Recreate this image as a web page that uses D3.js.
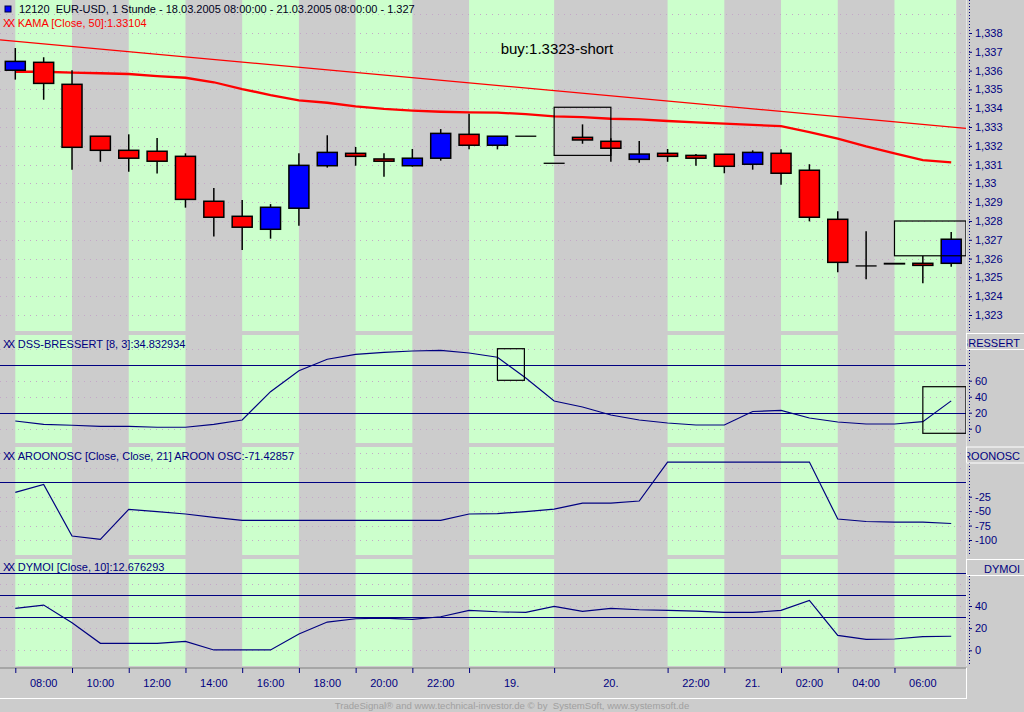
<!DOCTYPE html>
<html>
<head>
<meta charset="utf-8">
<script src="https://cdnjs.cloudflare.com/ajax/libs/d3/7.8.5/d3.min.js"></script>
<style>
body { margin:0; background:#cccccc; }
svg { display:block; font-family:"Liberation Sans", Arial, sans-serif; }
</style>
</head>
<body>
<script>
// EUR-USD 1h candles + KAMA, with DSS / AROON OSC / DYMOI panels (d3 v7)
var w = 1024, h = 712;
var plotRight = 966;   // axis column starts here

// time axis: bar where each label segment starts + its label
var segStart = [0, 2, 4, 6, 8, 10, 12, 14, 16, 19, 23, 25, 27, 29, 31, 33];
var timeLabels = ["08:00","10:00","12:00","14:00","16:00","18:00","20:00","22:00",
                  "19.","20.","22:00","21.","02:00","04:00","06:00"];

// OHLC, one per hour
var barOpen  = [1.33602,1.33644,1.33527,1.33251,1.33176,1.33171,1.33144,1.32905,1.32825,1.32756,
                1.32868,1.33094,1.33160,1.33130,1.33094,1.33134,1.33261,1.33203,1.33251,1.33107,
                1.33245,1.33224,1.33128,1.33160,1.33149,1.33155,1.33102,1.33160,1.33070,1.32809,
                1.32561,1.32574,1.32575,1.32575];
var barHigh  = [1.33720,1.33671,1.33602,1.33251,1.33261,1.33241,1.33160,1.32976,1.32912,1.32890,
                1.33160,1.33256,1.33194,1.33160,1.33183,1.33289,1.33371,1.33251,1.33251,1.33107,
                1.33314,1.33240,1.33226,1.33183,1.33156,1.33155,1.33176,1.33181,1.33102,1.32852,
                1.32745,1.32574,1.32614,1.32741];
var barLow   = [1.33552,1.33445,1.33073,1.33115,1.33062,1.33052,1.32871,1.32717,1.32646,1.32706,
                1.32775,1.33084,1.33094,1.33036,1.33089,1.33121,1.33181,1.33181,1.33251,1.33107,
                1.33211,1.33115,1.33110,1.33115,1.33094,1.33054,1.33073,1.32993,1.32798,1.32527,
                1.32490,1.32572,1.32469,1.32557];
var barClose = [1.33649,1.33532,1.33192,1.33176,1.33134,1.33118,1.32915,1.32820,1.32767,1.32873,
                1.33096,1.33165,1.33144,1.33118,1.33134,1.33266,1.33203,1.33251,1.33251,1.33107,
                1.33231,1.33187,1.33156,1.33144,1.33134,1.33091,1.33165,1.33054,1.32820,1.32580,
                1.32561,1.32572,1.32564,1.32703];

// KAMA [Close, 50]
var kama = [1.33594,1.33594,1.33589,1.33586,1.33582,1.33571,1.33562,1.33538,1.33502,1.33470,
            1.33442,1.33429,1.33410,1.33396,1.33387,1.33381,1.33378,1.33376,1.33369,1.33357,
            1.33352,1.33344,1.33341,1.33332,1.33325,1.33318,1.33311,1.33305,1.33273,1.33238,
            1.33197,1.33160,1.33124,1.33112];

// drawn trend line (two anchors, bar index / price)
var trendBar = [-0.54, 33.52];
var trendPrice = [1.33763, 1.33293];

// DSS-BRESSERT [8, 3]
var dss = [9.6,5.5,4.3,3.0,3.0,1.8,1.8,5.5,10.9,46.3,72.5,86.8,93.0,95.5,97.1,98.0,94.6,89.3,
           63.4,34.6,27.1,17.1,10.9,7.1,4.6,4.6,21.5,22.8,13.4,8.4,5.9,5.9,8.8,34.8];
// AROONOSC [Close, Close, 21]
var aroon = [-17.5,-3.6,-93.1,-98.8,-46.9,-50.7,-55.0,-60.7,-65.9,-65.9,-65.9,-65.9,-65.9,-65.9,
             -65.9,-65.9,-55.0,-54.2,-50.7,-46.4,-36.0,-36.0,-32.5,35.0,35.0,35.0,35.0,35.0,35.0,
             -63.7,-68.0,-68.9,-68.9,-71.4];
// DYMOI [Close, 10]
var dymoi = [37.8,40.8,24.9,6.3,6.3,6.3,8.1,0.3,0.3,0.3,14.7,25.5,28.5,29.1,27.9,30.3,36.0,34.8,
             34.2,39.6,35.1,37.8,36.6,36.0,35.4,34.2,34.2,36.0,45.0,13.5,9.9,10.2,12.3,12.7];

// axis ticks, dotted grid rows and solid level lines
var priceTicks = [1.323,1.324,1.325,1.326,1.327,1.328,1.329,1.330,1.331,1.332,1.333,1.334,1.335,1.336,1.337,1.338];
var priceGrid  = [1.323,1.324,1.325,1.326,1.327,1.328,1.329,1.330,1.331,1.332,1.333,1.334,1.335,1.336,1.337,1.338,1.339];
var dssTicks = [0,20,40,60],        dssGrid = [0,20,40,60,80,100],          dssLevels = [20,80];
var aroonTicks = [-100,-75,-50,-25], aroonGrid = [-100,-75,-50,-25,25,50], aroonLevels = [0];
var dymoiTicks = [0,20,40],         dymoiGrid = [0,20,40,60],               dymoiLevels = [30,50,70];

// signal boxes: [bar from, bar to, value top, value bottom]
var priceBoxes = [[19, 21, 1.33405, 1.33149], [31, 33.52, 1.32800, 1.32615]];
var dssBoxes   = [[17, 17.95, 100, 60.5], [32, 33.52, 52.5, -5.75]];

var svg = d3.select("body").append("svg")
            .attr("width", w)
            .attr("height", h);

// panels (pixel extents)
var panels = [
  {top:0,   bottom:331},
  {top:335, bottom:443},
  {top:447, bottom:555},
  {top:559, bottom:666}
];

var x = d3.scaleLinear().domain([0, 33]).range([15.3, 951.2]);
var yPrice = d3.scaleLinear().domain([1.323, 1.338]).range([315, 33]);
var yDss   = d3.scaleLinear().domain([0, 60]).range([428.7, 380.7]);
var yAroon = d3.scaleLinear().domain([-100, -25]).range([540, 496.7]);
var yDymoi = d3.scaleLinear().domain([0, 40]).range([650.3, 606]);

var navy = "#000080";

// green session bands
panels.forEach(function(p){
  for (var k = 0; k < timeLabels.length; k += 2) {
    var x0 = x(segStart[k]);
    var x1 = x(segStart[k+1]) + (k + 1 == timeLabels.length ? 5 : 0);
    svg.append("rect")
      .attr("x", x0).attr("y", p.top)
      .attr("width", x1 - x0).attr("height", p.bottom - p.top)
      .attr("fill", "#ccffcc");
  }
});

// dotted grid + solid level lines
function gridRows(vals, scale, dotted){
  svg.append("g").selectAll("line")
    .data(vals).enter().append("line")
    .attr("x1", 0).attr("x2", plotRight)
    .attr("y1", function(d){ return Math.round(scale(d)) + 0.5; })
    .attr("y2", function(d){ return Math.round(scale(d)) + 0.5; })
    .attr("stroke", dotted ? "#c4a8c8" : navy)
    .attr("stroke-width", 1)
    .attr("stroke-dasharray", dotted ? "1,5" : null);
}
gridRows(priceGrid.filter(function(d){ return yPrice(d) > 4; }), yPrice, true);
gridRows(dssGrid, yDss, true);
gridRows(aroonGrid, yAroon, true);
gridRows(dymoiGrid, yDymoi, true);
gridRows(dssLevels, yDss, false);
gridRows(aroonLevels, yAroon, false);
gridRows(dymoiLevels, yDymoi, false);

// trend line + KAMA
var bars = d3.range(barOpen.length);
svg.append("line")
  .attr("x1", x(trendBar[0])).attr("y1", yPrice(trendPrice[0]))
  .attr("x2", x(trendBar[1])).attr("y2", yPrice(trendPrice[1]))
  .attr("stroke", "#ff0000").attr("stroke-width", 1.2);

svg.append("path")
  .datum(kama)
  .attr("d", d3.line().x(function(d, i){ return x(i); }).y(function(d){ return yPrice(d); }))
  .attr("fill", "none").attr("stroke", "#ff0000").attr("stroke-width", 2.3);

// candles
var candle = svg.append("g").selectAll("g").data(bars).enter().append("g");
candle.filter(function(i){ return barHigh[i] > barLow[i]; })
  .append("line")
  .attr("x1", function(i){ return x(i); }).attr("x2", function(i){ return x(i); })
  .attr("y1", function(i){ return yPrice(barHigh[i]); })
  .attr("y2", function(i){ return yPrice(barLow[i]); })
  .attr("stroke", "#000").attr("stroke-width", 1.5);
candle.filter(function(i){ return barOpen[i] != barClose[i]; })
  .append("rect")
  .attr("x", function(i){ return x(i) - 10; })
  .attr("width", 20)
  .attr("y", function(i){ return yPrice(Math.max(barOpen[i], barClose[i])); })
  .attr("height", function(i){ return Math.abs(yPrice(barOpen[i]) - yPrice(barClose[i])); })
  .attr("fill", function(i){ return barClose[i] > barOpen[i] ? "#0000ff" : "#ff0000"; })
  .attr("stroke", "#000").attr("stroke-width", 1.5);
candle.filter(function(i){ return barOpen[i] == barClose[i]; })
  .append("line")
  .attr("x1", function(i){ return x(i) - 10.5; }).attr("x2", function(i){ return x(i) + 10.5; })
  .attr("y1", function(i){ return yPrice(barOpen[i]); })
  .attr("y2", function(i){ return yPrice(barOpen[i]); })
  .attr("stroke", "#000").attr("stroke-width", 1.3);

// indicator lines
function indicator(vals, scale){
  svg.append("path")
    .datum(vals)
    .attr("d", d3.line().x(function(d, i){ return x(i); }).y(function(d){ return scale(d); }))
    .attr("fill", "none").attr("stroke", navy).attr("stroke-width", 1.2);
}
indicator(dss, yDss);
indicator(aroon, yAroon);
indicator(dymoi, yDymoi);

// signal boxes
function boxes(list, scale){
  svg.append("g").selectAll("rect")
    .data(list).enter().append("rect")
    .attr("x", function(d){ return x(d[0]); })
    .attr("width", function(d){ return x(d[1]) - x(d[0]); })
    .attr("y", function(d){ return scale(d[2]); })
    .attr("height", function(d){ return scale(d[3]) - scale(d[2]); })
    .attr("fill", "none").attr("stroke", "#000").attr("stroke-width", 1.2);
}
boxes(priceBoxes, yPrice);
boxes(dssBoxes, yDss);

svg.append("text")
  .attr("x", x(19.1)).attr("y", yPrice(1.33688))
  .attr("text-anchor", "middle")
  .attr("font-size", "15px").attr("fill", "#000")
  .text("buy:1.3323-short");

// title + legends
svg.append("rect").attr("x", 5).attr("y", 6).attr("width", 6).attr("height", 6)
  .attr("fill", "#0000ff").attr("stroke", "#000040").attr("stroke-width", 1);
svg.append("text").attr("x", 19).attr("y", 12.5).attr("font-size", "11px").attr("fill", "#000020")
  .attr("xml:space", "preserve")
  .text("12120  EUR-USD, 1 Stunde - 18.03.2005 08:00:00 - 21.03.2005 08:00:00 - 1.327");

function legend(txt, yy, col){
  var t = svg.append("text").attr("x", 3).attr("y", yy).attr("font-size", "11px").attr("fill", col);
  t.append("tspan").attr("letter-spacing", "-2.5px").text("XX");
  t.append("tspan").attr("dx", 5).text(txt);
}
legend("KAMA [Close, 50]:1.33104", 26.5, "#ff0000");
legend("DSS-BRESSERT [8, 3]:34.832934", 347.5, navy);
legend("AROONOSC [Close, Close, 21] AROON OSC:-71.42857", 459.5, navy);
legend("DYMOI [Close, 10]:12.676293", 570.5, navy);

// right axis column
svg.append("line").attr("x1", 966.5).attr("x2", 966.5).attr("y1", 0).attr("y2", 666)
  .attr("stroke", "#e4e4e4");

var fmtPrice = function(d){ return d3.format(".3f")(d).replace(/0+$/, "").replace(".", ","); };
var fmtInt = function(d){ return String(d); };   // plain hyphen minus, like the original
function rightAxis(scale, ticks, fmt, y0, y1){
  svg.append("line").attr("x1", 969.5).attr("x2", 969.5).attr("y1", y0).attr("y2", y1)
    .attr("stroke", navy).attr("stroke-dasharray", "1,2");
  var g = svg.append("g").attr("transform", "translate(969,0)")
    .call(d3.axisRight(scale).tickValues(ticks).tickSize(3).tickSizeOuter(0).tickFormat(fmt));
  g.select(".domain").remove();
  g.selectAll("line").attr("stroke", navy);
  g.selectAll("text").attr("fill", navy).attr("font-size", "11px")
    .attr("font-family", "Liberation Sans, Arial, sans-serif");
}
rightAxis(yPrice, priceTicks, fmtPrice, 0, 331);
rightAxis(yDss, dssTicks, fmtInt, 350, 443);
rightAxis(yAroon, aroonTicks, fmtInt, 463, 555);
rightAxis(yDymoi, dymoiTicks, fmtInt, 576, 666);

// header boxes over the lower axes
var headers = [["DSS-BRESSERT", 333], ["AROONOSC", 446.5], ["DYMOI", 559]];
svg.append("clipPath").attr("id", "hdrclip")
  .append("rect").attr("x", 967.5).attr("y", 0).attr("width", 60).attr("height", h);
headers.forEach(function(d){
  svg.append("line").attr("x1", 967).attr("x2", w).attr("y1", d[1] + 0.5).attr("y2", d[1] + 0.5)
    .attr("stroke", "#ffffff");
  svg.append("line").attr("x1", 967).attr("x2", w).attr("y1", d[1] + 16.5).attr("y2", d[1] + 16.5)
    .attr("stroke", "#ffffff");
  svg.append("line").attr("x1", 966.5).attr("x2", 966.5).attr("y1", d[1]).attr("y2", d[1] + 16)
    .attr("stroke", "#ffffff");
  svg.append("text").attr("x", 1020).attr("y", d[1] + 13.5)
    .attr("text-anchor", "end").attr("font-size", "11px").attr("fill", navy)
    .attr("clip-path", "url(#hdrclip)")
    .text(d[0]);
});

// time axis
svg.append("line").attr("x1", 0).attr("x2", plotRight).attr("y1", 668).attr("y2", 668)
  .attr("stroke", "#9a9a9a").attr("stroke-width", 1.5);
var tg = svg.append("g").attr("transform", "translate(0,668)")
  .call(d3.axisBottom(x).tickValues(segStart.slice(0, timeLabels.length)).tickSize(5).tickSizeOuter(0).tickFormat(""));
tg.select(".domain").remove();
tg.selectAll("line").attr("stroke", navy);

svg.append("g").selectAll("text")
  .data(timeLabels).enter().append("text")
  .attr("x", function(d, k){ return (x(segStart[k]) + x(segStart[k+1])) / 2; })
  .attr("y", 687)
  .attr("text-anchor", "middle").attr("font-size", "11px").attr("fill", navy)
  .text(function(d){ return d; });

svg.append("line").attr("x1", 0).attr("x2", 967).attr("y1", 698.5).attr("y2", 698.5).attr("stroke", "#ffffff");
svg.append("line").attr("x1", 966.5).attr("x2", 966.5).attr("y1", 668).attr("y2", 698.5).attr("stroke", "#ffffff");

// footer
svg.append("text").attr("x", 512).attr("y", 708.5)
  .attr("text-anchor", "middle").attr("font-size", "9.6px").attr("fill", "#a0a0a0")
  .attr("xml:space", "preserve")
  .text("TradeSignal\u00ae and www.technical-investor.de \u00a9 by  SystemSoft, www.systemsoft.de");
</script>
</body>
</html>
